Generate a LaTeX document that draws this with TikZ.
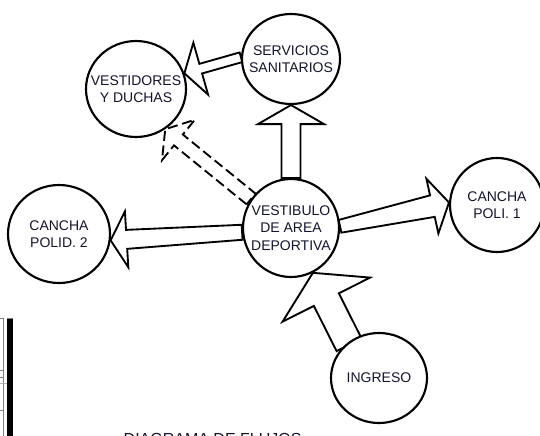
\documentclass[tikz,border=0pt]{standalone}
\usepackage{fontspec}
\setmainfont{Liberation Sans}
\usetikzlibrary{calc,shapes.geometric}
\definecolor{ink}{RGB}{20,20,45}
\pgfdeclarelayer{bg}
\pgfsetlayers{bg,main}
\newcommand\flowarrow[7]{% #1 style, #2 start, #3 tip, #4 shaft half width at start, #5 at head, #6 head half width, #7 head length (px)
  \pgfmathsetmacro\fsa{#4*0.75}%
  \pgfmathsetmacro\fsb{#5*0.75}%
  \pgfmathsetmacro\fhw{#6*0.75}%
  \pgfmathsetmacro\fhl{#7*0.75}%
  \coordinate (fa) at #2;
  \coordinate (fb) at #3;
  \coordinate (fh) at ($(fb)!\fhl pt!(fa)$);
  \draw[#1] ($(fa)!\fsa pt!90:(fb)$) -- ($(fh)!\fsb pt!90:(fb)$) -- ($(fh)!\fhw pt!90:(fb)$) -- (fb)
    -- ($(fh)!\fhw pt!-90:(fb)$) -- ($(fh)!\fsb pt!-90:(fb)$) -- ($(fa)!\fsa pt!-90:(fb)$) -- cycle;
}
\tikzset{
  room/.style={ellipse, draw=black, line width=1.6pt, fill=white, inner sep=0pt},
  lbl/.style={font=\fontsize{10.5}{13}\selectfont, text=ink, align=center},
  blk/.style={draw=black, fill=white, line width=1.4pt, line join=miter},
  blkdash/.style={blk, dash pattern=on 7.5pt off 3.5pt},
}
\begin{document}
\begin{tikzpicture}[x=0.75pt, y=-0.75pt]
\useasboundingbox (0,0) rectangle (540,436);

% rooms
\node[room, minimum width=73.5pt, minimum height=67.5pt, label={[lbl]center:SERVICIOS\\SANITARIOS}] (ss) at (291,59) {};
\node[room, minimum width=75pt, minimum height=72pt, label={[lbl]center:VESTIDORES\\Y DUCHAS}] (vd) at (136,89) {};
\node[room, minimum width=72pt, minimum height=73.5pt, label={[lbl]center:VESTIBULO\\DE AREA\\DEPORTIVA}] (vb) at (291,228) {};
\node[room, minimum width=70.5pt, minimum height=70.5pt, label={[lbl]center:CANCHA\\POLI. 1}] (cp1) at (497,205) {};
\node[room, minimum width=76.5pt, minimum height=73.5pt, label={[lbl]center:CANCHA\\POLID. 2}] (cp2) at (59,234) {};
\node[room, minimum width=72pt, minimum height=67.5pt, label={[lbl]center:INGRESO}] (ing) at (379,378) {};

% flows
\begin{pgfonlayer}{bg}
\flowarrow{blk}{(vb.90)}{(ss.-90)}{9.5}{9.5}{33}{19}
\flowarrow{blk}{(ss.178)}{(vd.18)}{5}{5}{27}{17}
\flowarrow{blkdash}{(vb.144)}{(vd.-54)}{7}{7}{26}{17}
\flowarrow{blk}{(vb.2)}{(cp1.177)}{6.5}{11}{28}{17}
\flowarrow{blk}{(vb.185)}{(cp2.-7)}{7.5}{9.5}{28}{16}
\flowarrow{blk}{($(ing.132)!2pt!(ing.center)$)}{(vb.-64)}{14}{14}{49}{30}
\end{pgfonlayer}

% title (cut by the lower edge, as in the source sheet)
\node[font=\fontsize{12}{14}\selectfont, text=ink, anchor=base west] (title) at (119,444.5) {DIAGRAMA DE FLUJOS};

% sheet border fragments, lower left
\fill[black] (7,319) rectangle (13,436);
\fill[gray] (7,317.5) rectangle (13,319);
\draw[gray, line width=0.5pt] (3,318) -- (3,436);
\draw[gray, line width=0.5pt] (0,318) -- (3,318);
\draw[gray, line width=0.5pt] (0,370) -- (3,370);
\draw[gray, line width=0.5pt] (0,377) -- (3,377);
\draw[gray!60, line width=0.5pt] (0,383) -- (7,383);
\draw[gray, line width=0.5pt] (0,410) -- (3,410);
\end{tikzpicture}
\end{document}
